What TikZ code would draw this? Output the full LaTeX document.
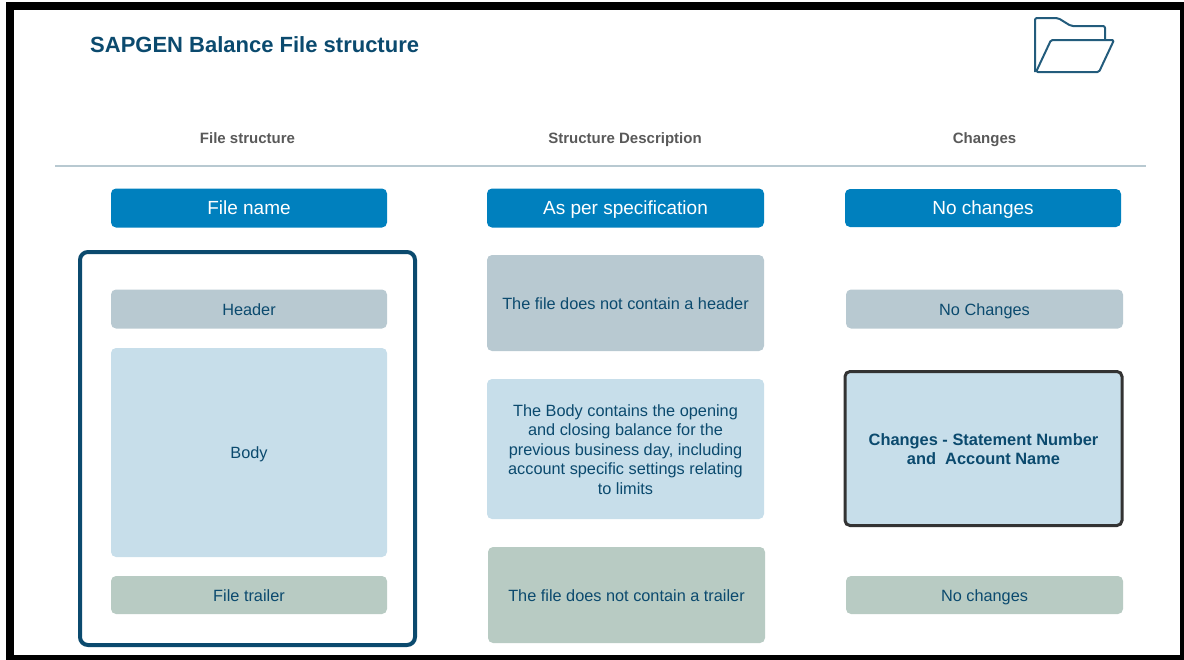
\documentclass[tikz,border=0pt]{standalone}
\usepackage{fontspec}
\usepackage{xcolor}
\usepackage{tikz}
\setmainfont{Liberation Sans}
\definecolor{inkblue}{HTML}{0B4A6E}
\definecolor{btnblue}{HTML}{0080BE}
\definecolor{slategrey}{HTML}{B8C9D1}
\definecolor{paleblue}{HTML}{C7DEEA}
\definecolor{palegreen}{HTML}{B8CBC3}
\definecolor{headgrey}{HTML}{595959}
% same height and depth on every label, so that all of them sit alike
\newcommand{\lbl}[1]{\rule{0pt}{17pt}#1\rule[-4.2pt]{0pt}{4.2pt}}
\tikzset{
    card/.style={rounded corners=5pt,inner sep=0pt,align=center,text=inkblue,font=\fontsize{16.3}{19.5}\selectfont},
    button/.style={card,fill=btnblue,text=white,font=\fontsize{19}{22}\selectfont},
    colhead/.style={align=center,inner sep=0pt,text=headgrey,font=\fontsize{15}{18}\selectfont\bfseries}
}
\begin{document}
\begin{tikzpicture}[x=1pt,y=-1pt]
    \useasboundingbox (0,0) rectangle (1184,659);
    % Frame
    \draw[line width=8pt] (10,6) rectangle (1184,659);

    % Title and folder
    \node[anchor=west,inner sep=0pt,text=inkblue,font=\fontsize{22}{26}\selectfont\bfseries] (title) at (90,45) {SAPGEN Balance File structure};
    \draw[inkblue!90,line width=2pt,line join=round,rounded corners=2pt] (1035,72) -- (1035,18) -- (1058,18) -- (1071,26) -- (1105,26) -- (1105,39);
    \draw[inkblue!90,line width=2pt,line join=round,rounded corners=1.5pt] (1036,72) -- (1051,40) -- (1114,40) -- (1099,72) -- cycle;

    % Column heads
    \node[colhead] (headstruct) at (247.5,137.5) {\lbl{File structure}};
    \node[colhead] (headdesc) at (625,137.5) {\lbl{Structure Description}};
    \node[colhead] (headchange) at (984.5,137.5) {\lbl{Changes}};
    \coordinate (ruleL) at (55,165.5);
    \coordinate (ruleR) at (1146,165.5);
    \draw[slategrey,line width=2pt] (ruleL) -- (ruleR);

    % File structure
    \node[button,minimum width=276pt,minimum height=39pt] (filename) at (249,208) {\lbl{File name}};
    \draw[inkblue,line width=4pt,rounded corners=8pt] (80,252) rectangle (415,645);
    \node[card,fill=slategrey,minimum width=276pt,minimum height=39pt] (header) at (249,309) {\lbl{Header}};
    \node[card,fill=paleblue,minimum width=276pt,minimum height=209pt] (body) at (249,452.5) {\lbl{Body}};
    \node[card,fill=palegreen,minimum width=276pt,minimum height=38pt] (trailer) at (249,595) {\lbl{File trailer}};

    % Structure description
    \node[button,minimum width=277pt,minimum height=39pt] (spec) at (625.5,208) {\lbl{As per specification}};
    \node[card,fill=slategrey,minimum width=277pt,minimum height=96pt] (deschead) at (625.5,303) {\lbl{The file does not contain a header}};
    \node[card,fill=paleblue,minimum width=277pt,minimum height=140pt] (descbody) at (625.5,449) {\lbl{The Body contains the opening\\and closing balance for the\\previous business day, including\\account specific settings relating\\to limits}};
    \node[card,fill=palegreen,minimum width=277pt,minimum height=96pt] (desctrail) at (626.5,595) {\lbl{The file does not contain a trailer}};

    % Changes
    \node[button,minimum width=276pt,minimum height=38pt] (nochange) at (983,208) {\lbl{No changes}};
    \node[card,fill=slategrey,minimum width=277pt,minimum height=39pt] (chghead) at (984.5,309) {\lbl{No Changes}};
    \node[card,fill=paleblue,draw=black!80,line width=3pt,minimum width=277pt,minimum height=154pt,font=\fontsize{16.4}{19.5}\selectfont\bfseries] (chgbody) at (983.5,448.5) {\lbl{Changes - Statement Number\\and\ \ Account Name}};
    \node[card,fill=palegreen,minimum width=277pt,minimum height=38pt] (chgtrail) at (984.5,595) {\lbl{No changes}};
\end{tikzpicture}
\end{document}
